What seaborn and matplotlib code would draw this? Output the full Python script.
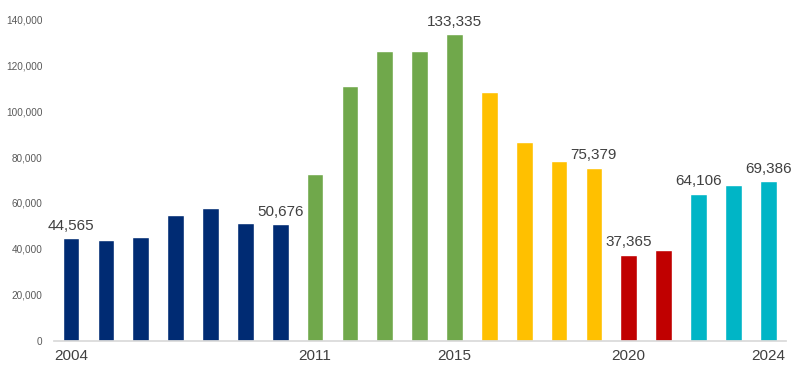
import pandas as pd
import seaborn as sns
import matplotlib.pyplot as plt

# values
years = list(range(2004, 2025))
values = [44565, 43900, 45200, 54800, 57800, 51300, 50676,
          72600, 110900, 126100, 126100, 133335,
          108300, 86500, 78300, 75379,
          37365, 39600,
          64106, 67800, 69386]
periods = ["p1"] * 7 + ["p2"] * 5 + ["p3"] * 4 + ["p4"] * 2 + ["p5"] * 3
period_colors = {"p1": "#002B73", "p2": "#70A84B", "p3": "#FFC000",
                 "p4": "#C00000", "p5": "#00B5C6"}
labelled_years = [2004, 2010, 2015, 2019, 2020, 2022, 2024]
shown_ticks = [2004, 2011, 2015, 2020, 2024]

df = pd.DataFrame({"Year": [str(y) for y in years], "Value": values, "Period": periods})

sns.set_theme(style="white")
plt.rcParams["font.family"] = ["Liberation Sans", "DejaVu Sans"]
fig = plt.figure(figsize=(8, 3.75), dpi=100)
ax = fig.add_axes([0.067, 0.091, 0.915, 0.858])

sns.barplot(data=df, x="Year", y="Value", hue="Period", palette=period_colors,
            dodge=False, width=0.48, legend=False, saturation=1, ax=ax)

# value labels on selected bars
for i, (y, v) in enumerate(zip(years, values)):
    if y in labelled_years:
        ax.text(i, v + 2500, f"{v:,}", ha="center", va="bottom",
                fontsize=11, color="#404040", clip_on=False)

ax.set_ylim(0, 140000)
ax.set_xlim(-0.5, len(years) - 0.5)
ax.set_yticks(range(0, 140001, 20000))
ax.set_yticklabels([f"{t:,}" for t in range(0, 140001, 20000)], fontsize=7.2, color="#595959")
ax.set_xticks(range(len(years)))
ax.set_xticklabels([str(y) if y in shown_ticks else "" for y in years],
                   fontsize=11, color="#404040")
ax.tick_params(axis="both", length=0)
ax.tick_params(axis="x", pad=6)
ax.tick_params(axis="y", pad=8)
ax.set_xlabel("")
ax.set_ylabel("")
sns.despine(ax=ax, left=True, top=True, right=True)
ax.spines["bottom"].set_color("#D9D9D9")

plt.savefig("out.png", dpi=100)
